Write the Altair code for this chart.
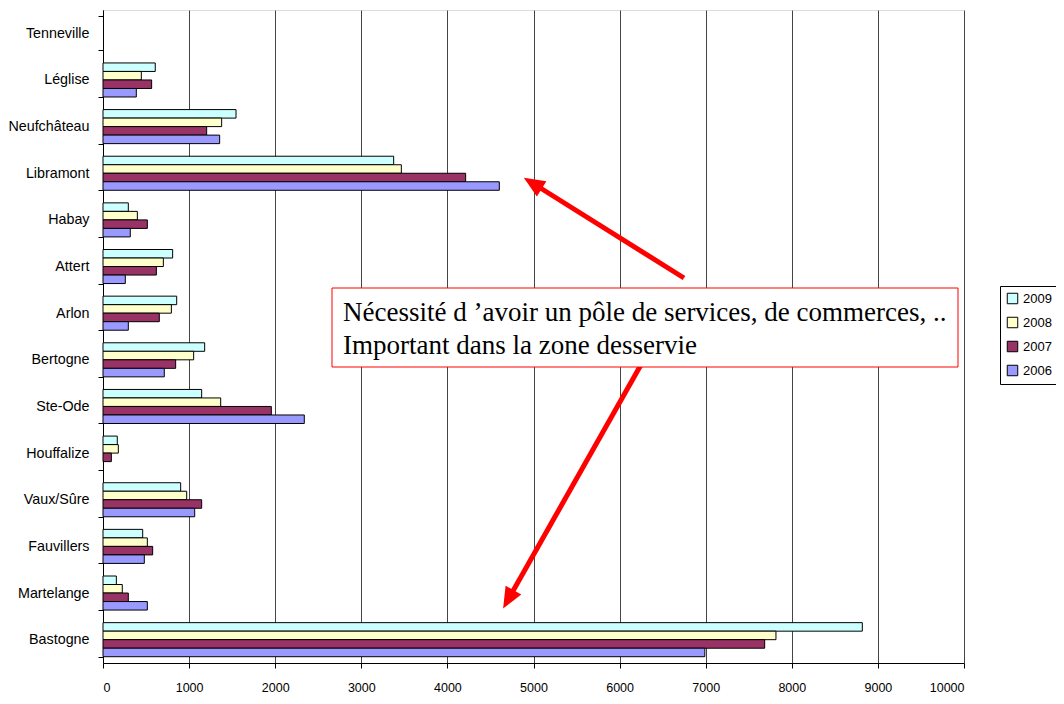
import altair as alt
import pandas as pd

categories = ["Tenneville", "Léglise", "Neufchâteau", "Libramont", "Habay", "Attert", "Arlon",
              "Bertogne", "Ste-Ode", "Houffalize", "Vaux/Sûre", "Fauvillers", "Martelange", "Bastogne"]
years = ["2009", "2008", "2007", "2006"]
v2009 = [None, 607, 1545, 3376, 294, 809, 856, 1181, 1146, 166, 902, 461, 155, 8819]
v2008 = [None, 445, 1378, 3465, 399, 701, 794, 1053, 1367, 178, 972, 515, 224, 7816]
v2007 = [None, 565, 1204, 4212, 515, 620, 654, 844, 1955, 97, 1146, 577, 294, 7685]
v2006 = [None, 387, 1355, 4603, 317, 259, 294, 712, 2338, None, 1065, 480, 515, 6990]
colors = ["#CCFFFF", "#FFFFCC", "#993366", "#9999FF"]
x_ticks = [0, 1000, 2000, 3000, 4000, 5000, 6000, 7000, 8000, 9000, 10000]
note_lines = ["Nécessité d \u2019avoir un pôle de services, de commerces, ..",
              "Important dans la zone desservie"]

rows = []
for yr, vals in zip(years, [v2009, v2008, v2007, v2006]):
    for c, v in zip(categories, vals):
        if v is not None:
            rows.append({"commune": c, "year": yr, "value": v})
df = pd.DataFrame(rows)

W, H = 861, 653

bars = alt.Chart(df).mark_bar(stroke="black", strokeWidth=1, opacity=1).encode(
    x=alt.X("value:Q", scale=alt.Scale(domain=[0, 10000], nice=False),
            axis=alt.Axis(values=x_ticks, title=None, grid=True, gridColor="#444", gridWidth=1,
                          domainColor="black", tickColor="black", tickSize=5,
                          labelFont="Liberation Sans", labelFontSize=12.5, labelColor="black",
                          labelPadding=13, format="d")),
    y=alt.Y("commune:N", sort=categories,
            scale=alt.Scale(domain=categories, paddingInner=0.27, paddingOuter=0.135),
            axis=alt.Axis(title=None, tickBand="extent", domainColor="black", tickColor="black",
                          tickSize=5, labelFont="Liberation Sans", labelFontSize=14.3,
                          labelColor="black", labelPadding=9, grid=False)),
    yOffset=alt.YOffset("year:N", sort=years, scale=alt.Scale(domain=years, paddingInner=0, paddingOuter=0)),
    color=alt.Color("year:N", scale=alt.Scale(domain=years, range=colors),
                    legend=alt.Legend(title=None, orient="none", legendX=897, legendY=276,
                                      symbolType="square", symbolSize=110,
                                      symbolStrokeColor="black", symbolStrokeWidth=1,
                                      labelFont="Liberation Sans", labelFontSize=13,
                                      labelColor="black", rowPadding=9,
                                      strokeColor="black", fillColor="white", padding=6)),
)

one = pd.DataFrame({"a": [0]})

arrow1 = alt.Chart(one).mark_rule(color="red", strokeWidth=5).encode(
    x=alt.value(581), y=alt.value(268), x2=alt.value(431), y2=alt.value(174))
head1 = alt.Chart(one).mark_point(shape="M0,-1L0.75,0.75L-0.75,0.75Z", filled=True, color="red",
                                  opacity=1, size=576, angle=302).encode(
    x=alt.value(431), y=alt.value(174))
arrow2 = alt.Chart(one).mark_rule(color="red", strokeWidth=5).encode(
    x=alt.value(552), y=alt.value(330), x2=alt.value(406), y2=alt.value(588))
head2 = alt.Chart(one).mark_point(shape="M0,-1L0.75,0.75L-0.75,0.75Z", filled=True, color="red",
                                  opacity=1, size=576, angle=209.5).encode(
    x=alt.value(406), y=alt.value(588))

box = alt.Chart(one).mark_rect(fill="white", stroke="red", strokeWidth=1).encode(
    x=alt.value(229), x2=alt.value(855), y=alt.value(278), y2=alt.value(357))
txt1 = alt.Chart(one).mark_text(font="Liberation Serif", fontSize=27, align="left",
                                baseline="middle", color="black", text=note_lines[0]).encode(
    x=alt.value(240), y=alt.value(303))
txt2 = alt.Chart(one).mark_text(font="Liberation Serif", fontSize=27, align="left",
                                baseline="middle", color="black", text=note_lines[1]).encode(
    x=alt.value(240), y=alt.value(336))

chart = alt.layer(bars, arrow1, head1, arrow2, head2, box, txt1, txt2).properties(
    width=W, height=H,
    padding={"left": 95, "top": 2, "right": 92, "bottom": 33},
    autosize=alt.AutoSizeParams(type="none"),
).configure_view(stroke=None).configure(background="white")

chart.save("out.html", embed_options={"renderer": "svg", "actions": False})
